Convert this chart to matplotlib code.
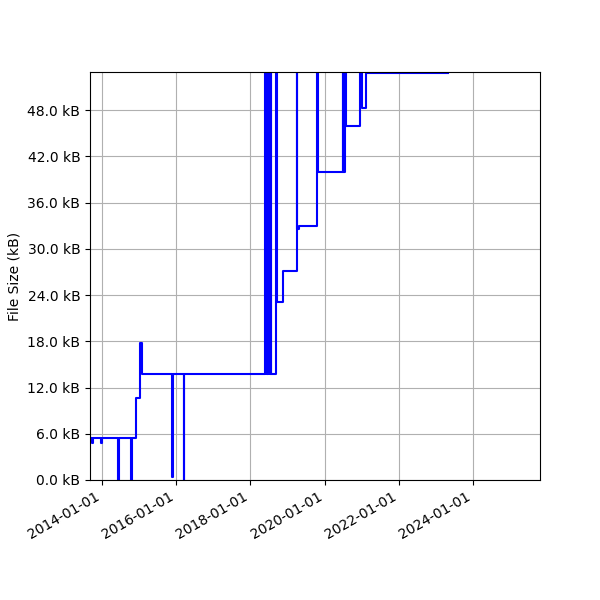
import matplotlib
matplotlib.use("Agg")
import matplotlib.pyplot as plt
import matplotlib.dates as mdates
from matplotlib.ticker import MultipleLocator, FuncFormatter
import pandas as pd

dates = [
    "2013-09-04", "2013-09-24", "2013-09-29", "2013-12-24", "2013-12-29",
    "2014-06-10", "2014-06-15", "2014-10-13", "2014-10-18",
    "2014-11-28", "2015-01-10", "2015-02-02",
    "2015-11-25", "2015-11-30", "2016-03-17", "2016-03-22",
    "2018-05-25", "2018-06-01", "2018-06-08", "2018-06-15", "2018-06-22",
    "2018-06-29", "2018-07-06", "2018-07-13", "2018-07-20", "2018-07-24",
    "2018-09-10", "2018-09-17", "2018-11-20",
    "2019-04-02", "2019-04-09", "2019-04-24",
    "2019-10-22", "2019-10-29",
    "2020-06-27", "2020-07-03", "2020-07-09", "2020-07-15", "2020-07-21", "2020-07-31",
    "2020-12-18", "2021-01-01",
    "2021-02-08", "2021-02-15",
    "2023-05-01",
]
sizes_kb = [
    5.4, 4.8, 5.4, 4.8, 5.4,
    0.0, 5.4, 0.0, 5.4,
    10.7, 17.8, 13.75,
    0.4, 13.75, 0.0, 13.75,
    60, 13.75, 60, 13.75, 60,
    13.75, 60, 13.75, 60, 13.75,
    60, 23.1, 27.05,
    60, 32.6, 32.9,
    60, 40.0,
    60, 40.0, 60, 40.0, 60, 45.9,
    60, 48.3,
    60, 52.8,
    52.8,
]

x = pd.to_datetime(dates)

fig, ax = plt.subplots(figsize=(6, 6), dpi=100)
ax.plot(x, sizes_kb, color="blue", drawstyle="steps-post", linewidth=1.5)
ax.set_ylim(0, 52.93)
ax.set_xlim(pd.Timestamp("2013-09-04"), pd.Timestamp("2025-10-23"))
ax.yaxis.set_major_locator(MultipleLocator(6))
ax.yaxis.set_major_formatter(FuncFormatter(lambda v, p: f"{v:.1f} kB"))
ax.xaxis.set_major_locator(mdates.YearLocator(2))
ax.xaxis.set_major_formatter(mdates.DateFormatter("%Y-%m-%d"))
ax.set_ylabel("File Size (kB)")
ax.grid(True)
fig.autofmt_xdate()
fig.subplots_adjust(left=0.15, right=0.9, top=0.88, bottom=0.2)
fig.savefig("out.png", dpi=100)
